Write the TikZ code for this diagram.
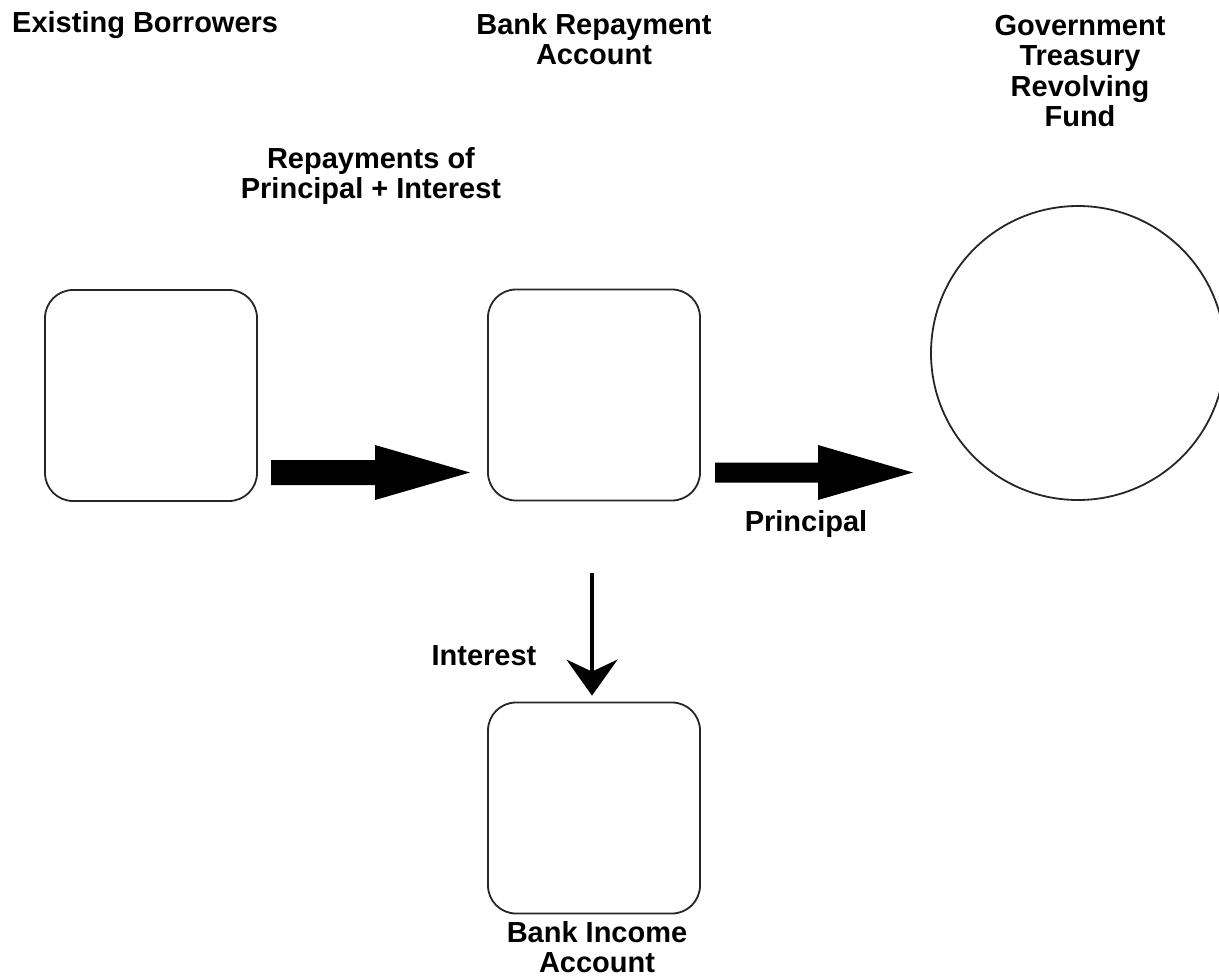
\documentclass[tikz,border=0pt]{standalone}
\usepackage{fontspec}
\setmainfont{Liberation Sans}
\usetikzlibrary{arrows.meta}
\begin{document}
\begin{tikzpicture}[x=1pt,y=-1pt,
  lbl/.style={font=\bfseries\fontsize{29}{30.5}\selectfont, inner sep=0pt, align=center},
  acct/.style={draw=black!85, line width=1.8pt, rounded corners=28pt, minimum width=212pt, minimum height=211pt, inner sep=0pt},
  blockarrow/.style={fill=black, draw=none}
]
\useasboundingbox (0,0) rectangle (1219,980);
% boxes
\node[acct] (b1) at (151,395.5) {};
\node[acct] (b2) at (594,395) {};
\node[acct] (b3) at (594,808) {};
\node[draw=black!85, line width=1.8pt, circle, minimum size=294pt, inner sep=0pt] (fund) at (1078,353) {};
% labels
\node[lbl, anchor=north west] (tb1) at (12,11) {Existing Borrowers};
\node[lbl, anchor=north] (tb2) at (594,13) {Bank Repayment\\Account};
\node[lbl, anchor=north] (tf) at (1080,15) {Government\\Treasury\\Revolving\\Fund};
\node[lbl, anchor=north] (trep) at (371,147) {Repayments of\\Principal + Interest};
\node[lbl, anchor=north] (tint) at (484,645) {Interest};
\node[lbl, anchor=north] (tpri) at (806,510) {Principal};
\node[lbl, anchor=north] (tb3) at (597,921) {Bank Income\\Account};
% block arrows
\coordinate (a1) at (271,472.5);
\coordinate (a2) at (715,472.5);
\fill[blockarrow] (a1) ++(0,-12.5) -- ++(104,0) -- ++(0,-15) -- ++(95,27.5) -- ++(-95,27.5) -- ++(0,-15) -- ++(-104,0) -- cycle;
\fill[blockarrow] (a2) ++(0,-10) -- ++(103,0) -- ++(0,-17.5) -- ++(95,27.5) -- ++(-95,27.5) -- ++(0,-17.5) -- ++(-103,0) -- cycle;
% down arrow
\coordinate (d1) at (592,573);
\draw[line width=4pt, -{Stealth[length=36pt,width=51pt,inset=12pt]}, shorten >=6pt] (d1) -- (d1 |- b3.north);
\end{tikzpicture}
\end{document}
